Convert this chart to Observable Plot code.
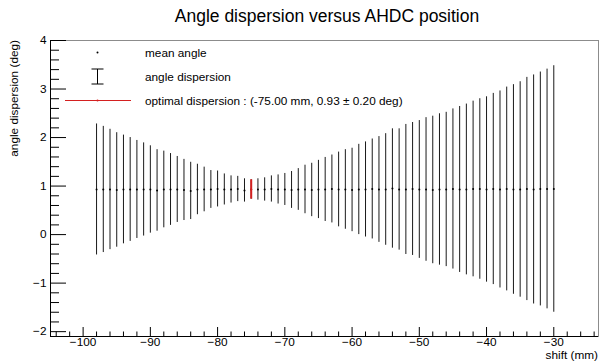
<!DOCTYPE html>
<html><head><meta charset="utf-8">
<script src="https://cdn.jsdelivr.net/npm/d3@7"></script>
<script src="https://cdn.jsdelivr.net/npm/@observablehq/plot@0.6"></script>
<style>body{margin:0;background:#fff} svg{display:block}</style>
</head><body><div id="chart"></div>
<script>
// ---- data ----
const shift = [-98,-97,-96,-95,-94,-93,-92,-91,-90,-89,-88,-87,-86,-85,-84,-83,-82,-81,-80,-79,-78,-77,-76,-75,-74,-73,-72,-71,-70,-69,-68,-67,-66,-65,-64,-63,-62,-61,-60,-59,-58,-57,-56,-55,-54,-53,-52,-51,-50,-49,-48,-47,-46,-45,-44,-43,-42,-41,-40,-39,-38,-37,-36,-35,-34,-33,-32,-31,-30];
const meanAngle = [0.93,0.93,0.93,0.92,0.93,0.93,0.93,0.93,0.93,0.91,0.93,0.93,0.93,0.92,0.90,0.93,0.93,0.93,0.94,0.93,0.93,0.94,0.91,0.93,0.93,0.93,0.94,0.93,0.93,0.92,0.93,0.93,0.92,0.93,0.93,0.94,0.93,0.93,0.92,0.93,0.93,0.94,0.93,0.93,0.95,0.93,0.93,0.94,0.93,0.93,0.92,0.93,0.93,0.94,0.93,0.93,0.94,0.94,0.93,0.94,0.93,0.94,0.93,0.93,0.94,0.93,0.94,0.94,0.94];
const dispersion = [1.35,1.30,1.24,1.18,1.12,1.07,1.01,0.96,0.90,0.84,0.79,0.74,0.68,0.63,0.59,0.52,0.46,0.39,0.37,0.32,0.28,0.26,0.24,0.20,0.22,0.24,0.27,0.30,0.33,0.38,0.43,0.50,0.55,0.60,0.66,0.70,0.77,0.82,0.86,0.93,0.98,1.03,1.09,1.15,1.23,1.25,1.34,1.37,1.42,1.48,1.52,1.56,1.59,1.65,1.71,1.76,1.81,1.86,1.91,1.97,2.03,2.10,2.16,2.22,2.30,2.36,2.41,2.47,2.54];
const optimalShift = [-75];
const optimalMean = [0.93];
const optimalDisp = [0.20];

// ---- axes / ticks / labels ----
const xDomain = [-104.85, -23.35];
const yDomain = [-2.1, 4.0];
const xMajorTicks = [-100,-90,-80,-70,-60,-50,-40,-30];
const xMinorTicks = [-104,-102,-98,-96,-94,-92,-88,-86,-84,-82,-78,-76,-74,-72,-68,-66,-64,-62,-58,-56,-54,-52,-48,-46,-44,-42,-38,-36,-34,-32,-28,-26,-24];
const yMajorTicks = [-2,-1,0,1,2,3,4];
const yMinorTicks = [-1.8,-1.6,-1.4,-1.2,-0.8,-0.6,-0.4,-0.2,0.2,0.4,0.6,0.8,1.2,1.4,1.6,1.8,2.2,2.4,2.6,2.8,3.2,3.4,3.6,3.8];
const titleText = "Angle dispersion versus AHDC position";
const xLabel = "shift (mm)";
const yLabel = "angle dispersion (deg)";
const legendLabels = ["mean angle", "angle dispersion", "optimal dispersion : (-75.00 mm, 0.93 \u00b1 0.20 deg)"];

const W = 599, H = 361;
const mT = 40, mB = 25, mL = 50, mR = 1;
const fw = W - mL - mR, fh = H - mT - mB;
const FONT = "'Liberation Sans', Arial, Helvetica, sans-serif";
const RED = "#d42020";
const fmt = d => (d < 0 ? "\u2212" : "") + Math.abs(d);

const data = shift.map((x, i) => ({x, y: meanAngle[i], lo: meanAngle[i] - dispersion[i], hi: meanAngle[i] + dispersion[i]}));
const opt = optimalShift.map((x, i) => ({x, y: optimalMean[i], lo: optimalMean[i] - optimalDisp[i], hi: optimalMean[i] + optimalDisp[i]}));

const chart = Plot.plot({
  width: W, height: H,
  marginTop: mT, marginBottom: mB, marginLeft: mL, marginRight: mR,
  x: {domain: xDomain},
  y: {domain: yDomain},
  style: {fontFamily: FONT, fontSize: "11.8px", background: "white", color: "black"},
  marks: [
    Plot.frame({stroke: "#8c8c8c"}),
    Plot.ruleX(xMinorTicks, {insetTop: fh - 4.5, stroke: "black"}),
    Plot.ruleX(xMajorTicks, {insetTop: fh - 9, stroke: "black"}),
    Plot.ruleY(yMinorTicks, {insetRight: fw - 9, stroke: "black"}),
    Plot.ruleY(yMajorTicks, {insetRight: fw - 16, stroke: "black"}),
    Plot.ruleX([xDomain[0]], {stroke: "black"}),
    Plot.ruleY([yDomain[0]], {stroke: "black"}),
    Plot.axisX({ticks: xMajorTicks, tickSize: 0, tickPadding: 1, label: null, tickFormat: fmt}),
    Plot.axisY({ticks: yMajorTicks, tickSize: 0, tickPadding: 4, label: null, tickFormat: fmt}),
    Plot.ruleX(data, {x: "x", y1: "lo", y2: "hi", stroke: "#1a1a1a", strokeWidth: 1}),
    Plot.dot(data, {x: "x", y: "y", r: 1, fill: "black", stroke: "none"}),
    Plot.ruleX(opt, {x: "x", y1: "lo", y2: "hi", stroke: RED, strokeWidth: 2}),
    Plot.dot(opt, {x: "x", y: "y", r: 1, fill: RED, stroke: "none"})
  ]
});
document.getElementById("chart").appendChild(chart);

// ---- title, axis titles, legend ----
const svg = d3.select(chart);
svg.append("text").attr("x", 327).attr("y", 22).attr("text-anchor", "middle")
  .attr("font-family", FONT).attr("font-size", 17.5).attr("fill", "black").text(titleText);
svg.append("text").attr("x", 598).attr("y", 359).attr("text-anchor", "end")
  .attr("font-family", FONT).attr("font-size", 11.8).attr("fill", "black").text(xLabel);
svg.append("text").attr("transform", "translate(18,40) rotate(-90)").attr("text-anchor", "end")
  .attr("font-family", FONT).attr("font-size", 11.8).attr("fill", "black").text(yLabel);

const lg = svg.append("g").attr("font-family", FONT).attr("font-size", 11.8).attr("fill", "black").attr("text-anchor", "start");
const rows = [52.5, 76.5, 100.5];
lg.append("circle").attr("cx", 97.5).attr("cy", rows[0]).attr("r", 1).attr("fill", "black");
lg.append("path").attr("d", `M97.5,${rows[1]-7.5}V${rows[1]+7.5}M91.5,${rows[1]-7.5}H103.5M91.5,${rows[1]+7.5}H103.5`)
  .attr("stroke", "black").attr("fill", "none");
lg.append("path").attr("d", `M65,${rows[2]}H131`).attr("stroke", RED).attr("fill", "none");
lg.append("circle").attr("cx", 97.5).attr("cy", rows[2]).attr("r", 1).attr("fill", RED);
legendLabels.forEach((t, i) => {
  lg.append("text").attr("x", 145).attr("y", rows[i] + 4.2).attr("text-anchor", "start").text(t);
});
</script>
</body></html>
